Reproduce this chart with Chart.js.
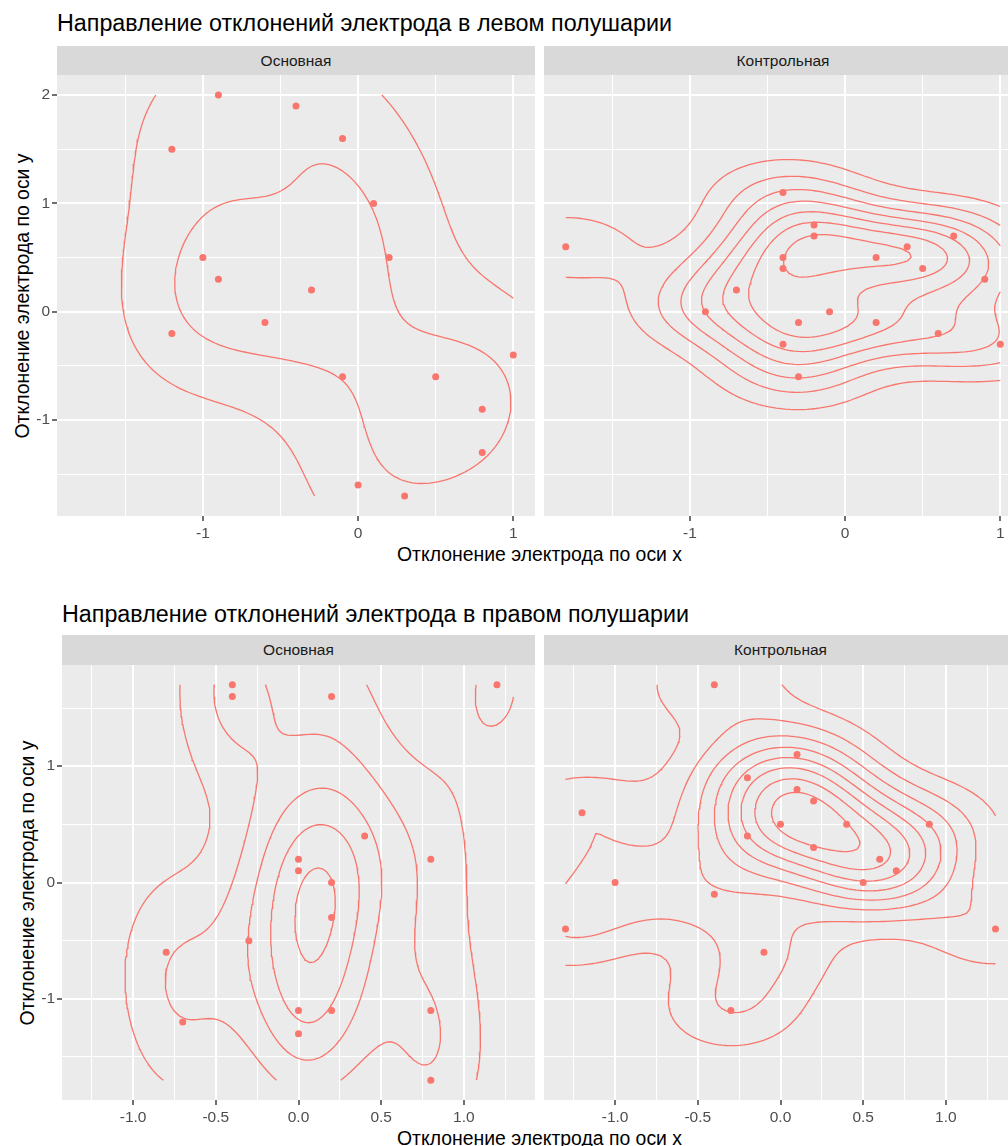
<!DOCTYPE html>
<html>
<head>
<meta charset="utf-8">
<script src="https://cdn.jsdelivr.net/npm/chart.js@4.4.0/dist/chart.umd.min.js"></script>
<style>
  body { margin: 0; background: #fff; }
  #page { position: relative; width: 1008px; height: 1146px; overflow: hidden; background: #fff;
          font-family: "Liberation Sans", Arial, sans-serif; }
  .abs { position: absolute; }
  .title { font-size: 23.3px; line-height: 27px; color: #000; white-space: nowrap; }
  .strip { background: #d9d9d9; color: #1a1a1a; font-size: 15.5px; text-align: center; }
  .xtitle { font-size: 19.4px; line-height: 22px; color: #000; text-align: center; white-space: nowrap; }
  .ytitle { font-size: 19.4px; line-height: 22px; color: #000; text-align: center; white-space: nowrap;
            width: 400px; transform: rotate(-90deg); }
</style>
</head>
<body>
<div id="page"></div>
<script>
// left hemisphere, main group
const leftMainX = [-1.2, -0.9, -0.4, -0.1, 0.1, 0.2, -1.0, -0.9, -0.3, -1.2, -0.6, -0.1, 0.5, 1.0, 0.8, 0.8, 0.0, 0.3];
const leftMainY = [1.5, 2.0, 1.9, 1.6, 1.0, 0.5, 0.5, 0.3, 0.2, -0.2, -0.1, -0.6, -0.6, -0.4, -0.9, -1.3, -1.6, -1.7];
// left hemisphere, control group
const leftCtrlX = [-1.8, -0.4, -0.2, -0.2, -0.4, -0.4, 0.2, 0.4, 0.5, 0.7, 0.9, -0.7, -0.9, -0.3, -0.1, 0.2, -0.4, 0.6, 1.0, -0.3];
const leftCtrlY = [0.6, 1.1, 0.8, 0.7, 0.5, 0.4, 0.5, 0.6, 0.4, 0.7, 0.3, 0.2, 0.0, -0.1, 0.0, -0.1, -0.3, -0.2, -0.3, -0.6];
// right hemisphere, main group
const rightMainX = [-0.4, -0.4, 0.2, 1.2, 0.4, 0.0, 0.0, 0.8, 0.2, 0.2, -0.3, -0.8, -0.7, 0.0, 0.2, 0.0, 0.8, 0.8];
const rightMainY = [1.7, 1.6, 1.6, 1.7, 0.4, 0.2, 0.1, 0.2, 0.0, -0.3, -0.5, -0.6, -1.2, -1.1, -1.1, -1.3, -1.1, -1.7];
// right hemisphere, control group
const rightCtrlX = [-0.4, -1.2, -1.0, 0.1, -0.2, 0.1, 0.2, 0.0, 0.4, -0.2, 0.2, 0.9, 0.6, 0.7, 0.5, -1.3, -0.4, -0.1, -0.3, 1.3];
const rightCtrlY = [1.7, 0.6, 0.0, 1.1, 0.9, 0.8, 0.7, 0.5, 0.5, 0.4, 0.3, 0.5, 0.2, 0.1, 0.0, -0.4, -0.1, -0.6, -1.1, -0.4];

const topXTicks = [-1, 0, 1];
const topXLabels = ['-1', '0', '1'];
const topYTicks = [-1, 0, 1, 2];
const topYLabels = ['-1', '0', '1', '2'];
const bottomXTicks = [-1, -0.5, 0, 0.5, 1];
const bottomXLabels = ['-1.0', '-0.5', '0.0', '0.5', '1.0'];
const bottomYTicks = [-1, 0, 1];
const bottomYLabels = ['-1', '0', '1'];

const facetNames = ['Основная', 'Контрольная'];
const figTitles = ['Направление отклонений электрода в левом полушарии',
                   'Направление отклонений электрода в правом полушарии'];
const xTitle = 'Отклонение электрода по оси x';
const yTitle = 'Отклонение электрода по оси y';

const red = '#F8766D';
Chart.defaults.font.family = '"Liberation Sans", Arial, sans-serif';

// ---- density estimate like MASS::kde2d + bandwidth.nrd ----
function quantile7(v, p) {
  const s = v.slice().sort((a, b) => a - b);
  const h = (s.length - 1) * p, lo = Math.floor(h);
  const hi = Math.min(lo + 1, s.length - 1);
  return s[lo] + (h - lo) * (s[hi] - s[lo]);
}
function bandwidthNrd(v) {
  const n = v.length;
  const m = v.reduce((a, b) => a + b, 0) / n;
  const sd = Math.sqrt(v.reduce((a, b) => a + (b - m) * (b - m), 0) / (n - 1));
  const iqr = (quantile7(v, 0.75) - quantile7(v, 0.25)) / 1.34;
  return 4 * 1.06 * Math.min(sd, iqr) * Math.pow(n, -0.2);
}
function kde2d(xs, ys, lims, n) {
  const hx = bandwidthNrd(xs) / 4, hy = bandwidthNrd(ys) / 4;
  const gx = [], gy = [];
  for (let i = 0; i < n; i++) {
    gx.push(lims[0] + (lims[1] - lims[0]) * i / (n - 1));
    gy.push(lims[2] + (lims[3] - lims[2]) * i / (n - 1));
  }
  const dn = t => Math.exp(-0.5 * t * t) / Math.sqrt(2 * Math.PI);
  const z = [];
  for (let i = 0; i < n; i++) {
    const row = [];
    for (let j = 0; j < n; j++) {
      let s = 0;
      for (let k = 0; k < xs.length; k++) s += dn((gx[i] - xs[k]) / hx) * dn((gy[j] - ys[k]) / hy);
      row.push(s / (xs.length * hx * hy));
    }
    z.push(row);
  }
  return { gx, gy, z };
}
function rPretty(lo, up, n) {
  const h = 1.5, h5 = 0.5 + 1.5 * h;
  const cell = (up - lo) / n;
  const U = Math.pow(10, Math.floor(Math.log10(cell)));
  let unit = U;
  if (2 * U - cell < h * (cell - unit)) {
    unit = 2 * U;
    if (5 * U - cell < h5 * (cell - unit)) {
      unit = 5 * U;
      if (10 * U - cell < h * (cell - unit)) unit = 10 * U;
    }
  }
  const ns = Math.floor(lo / unit + 1e-7), nu = Math.ceil(up / unit - 1e-7);
  const out = [];
  for (let k = ns; k <= nu; k++) out.push(k * unit);
  return out;
}
// marching squares, segments chained into polylines
function isolines(d, level) {
  const { gx, gy, z } = d, n = gx.length;
  const adj = new Map();
  const link = (a, b) => {
    if (!adj.has(a)) adj.set(a, []);
    if (!adj.has(b)) adj.set(b, []);
    adj.get(a).push(b); adj.get(b).push(a);
  };
  for (let i = 0; i < n - 1; i++) for (let j = 0; j < n - 1; j++) {
    const v0 = z[i][j], v1 = z[i + 1][j], v2 = z[i + 1][j + 1], v3 = z[i][j + 1];
    const c = (v0 > level ? 1 : 0) | (v1 > level ? 2 : 0) | (v2 > level ? 4 : 0) | (v3 > level ? 8 : 0);
    if (c === 0 || c === 15) continue;
    const B = 'h' + i + ',' + j, R = 'v' + (i + 1) + ',' + j, T = 'h' + i + ',' + (j + 1), L = 'v' + i + ',' + j;
    const mid = (v0 + v1 + v2 + v3) / 4 > level;
    switch (c) {
      case 1: case 14: link(L, B); break;
      case 2: case 13: link(B, R); break;
      case 3: case 12: link(L, R); break;
      case 4: case 11: link(R, T); break;
      case 6: case 9: link(B, T); break;
      case 7: case 8: link(L, T); break;
      case 5: if (mid) { link(B, R); link(L, T); } else { link(L, B); link(R, T); } break;
      case 10: if (mid) { link(L, B); link(R, T); } else { link(B, R); link(L, T); } break;
    }
  }
  const pt = key => {
    const [i, j] = key.slice(1).split(',').map(Number);
    if (key[0] === 'h') {
      const a = z[i][j], b = z[i + 1][j], t = (level - a) / (b - a);
      return { x: gx[i] + t * (gx[i + 1] - gx[i]), y: gy[j] };
    }
    const a = z[i][j], b = z[i][j + 1], t = (level - a) / (b - a);
    return { x: gx[i], y: gy[j] + t * (gy[j + 1] - gy[j]) };
  };
  const seen = new Set(), lines = [];
  const walk = start => {
    const keys = [start]; seen.add(start);
    let cur = start;
    for (;;) {
      const nxt = adj.get(cur).find(k => !seen.has(k));
      if (!nxt) break;
      seen.add(nxt); keys.push(nxt); cur = nxt;
    }
    if (adj.get(start).length === 2 && adj.get(cur).includes(start)) keys.push(start);
    lines.push(keys.map(pt));
  };
  for (const [k, nb] of adj) if (nb.length === 1 && !seen.has(k)) walk(k);
  for (const k of adj.keys()) if (!seen.has(k)) walk(k);
  return lines;
}

function expandRange(v) {
  const lo = Math.min(...v), hi = Math.max(...v), d = (hi - lo) * 0.05;
  return [lo - d, hi + d];
}
function minorBreaks(maj, lim) {
  const step = maj[1] - maj[0];
  const ext = [maj[0] - step, ...maj, maj[maj.length - 1] + step];
  const out = [];
  for (let i = 0; i < ext.length - 1; i++) {
    const m = (ext[i] + ext[i + 1]) / 2;
    if (m >= lim[0] && m <= lim[1]) out.push(m);
  }
  return out;
}

const figures = [
  { title: figTitles[0], titleTop: 10, titleLeft: 57, stripTop: 46, panelTop: 75, panelBottom: 516,
    panels: [[57, 535], [544, 1022]], yTitleX: 22, xTitleY: 554,
    sets: [[leftMainX, leftMainY], [leftCtrlX, leftCtrlY]],
    xMaj: topXTicks, xLab: topXLabels, yMaj: topYTicks, yLab: topYLabels },
  { title: figTitles[1], titleTop: 601, titleLeft: 62, stripTop: 635, panelTop: 665, panelBottom: 1100,
    panels: [[62, 535], [544, 1017]], yTitleX: 27, xTitleY: 1138,
    sets: [[rightMainX, rightMainY], [rightCtrlX, rightCtrlY]],
    xMaj: bottomXTicks, xLab: bottomXLabels, yMaj: bottomYTicks, yLab: bottomYLabels }
];

const page = document.getElementById('page');
function addDiv(cls, text, css) {
  const el = document.createElement('div');
  el.className = 'abs ' + cls;
  el.textContent = text;
  Object.assign(el.style, css);
  page.appendChild(el);
  return el;
}

const panelBg = {
  id: 'panelBg',
  beforeDraw(chart) {
    const a = chart.chartArea, c = chart.ctx;
    c.save(); c.fillStyle = '#ebebeb';
    c.fillRect(a.left, a.top, a.right - a.left, a.bottom - a.top);
    c.restore();
  }
};

const X_AXIS_H = 32;

figures.forEach(f => {
  const allX = [].concat(...f.sets.map(s => s[0]));
  const allY = [].concat(...f.sets.map(s => s[1]));
  const lims = [Math.min(...allX), Math.max(...allX), Math.min(...allY), Math.max(...allY)];
  const xr = expandRange(allX), yr = expandRange(allY);
  const dens = f.sets.map(s => kde2d(s[0], s[1], lims, 100));
  let zmin = Infinity, zmax = -Infinity;
  dens.forEach(d => d.z.forEach(r => r.forEach(v => { zmin = Math.min(zmin, v); zmax = Math.max(zmax, v); })));
  const levels = rPretty(zmin, zmax, 10);
  const xGrid = [...f.xMaj, ...minorBreaks(f.xMaj, xr)];
  const yGrid = [...f.yMaj, ...minorBreaks(f.yMaj, yr)];
  const isMajX = v => f.xMaj.some(m => Math.abs(m - v) < 1e-9);
  const isMajY = v => f.yMaj.some(m => Math.abs(m - v) < 1e-9);

  addDiv('title', f.title, { left: f.titleLeft + 'px', top: f.titleTop + 'px' });
  const pl = f.panels[0][0], pr = f.panels[1][1];
  addDiv('xtitle', xTitle, { left: pl + 'px', width: (pr - pl) + 'px', top: (f.xTitleY - 11) + 'px' });
  addDiv('ytitle', yTitle, { left: (f.yTitleX - 200) + 'px', top: ((f.panelTop + f.panelBottom) / 2 - 11) + 'px' });

  f.panels.forEach((p, pi) => {
    const sh = f.panelTop - f.stripTop;
    addDiv('strip', facetNames[pi], { left: p[0] + 'px', width: (p[1] - p[0]) + 'px', top: f.stripTop + 'px',
      height: sh + 'px', lineHeight: sh + 'px' });

    const first = pi === 0;
    const yW = first ? p[0] : 0;
    const left = first ? 0 : p[0];
    const w = p[1] - left, h = f.panelBottom - f.panelTop + X_AXIS_H;
    const cv = document.createElement('canvas');
    cv.width = w; cv.height = h;
    cv.style.position = 'absolute';
    cv.style.left = left + 'px'; cv.style.top = f.panelTop + 'px';
    page.appendChild(cv);

    const xs = f.sets[pi][0], ys = f.sets[pi][1];
    const lineData = [];
    levels.forEach(l => isolines(dens[pi], l).forEach(line => {
      line.forEach(q => lineData.push(q));
      lineData.push({ x: null, y: null });
    }));

    new Chart(cv, {
      type: 'scatter',
      data: {
        datasets: [
          { data: xs.map((x, i) => ({ x, y: ys[i] })), pointRadius: 3.5, pointBackgroundColor: red,
            pointBorderWidth: 0, showLine: false },
          { data: lineData, showLine: true, spanGaps: false, borderColor: red, borderWidth: 1.3,
            pointRadius: 0, tension: 0 }
        ]
      },
      options: {
        responsive: false, animation: false, events: [],
        layout: { padding: 0, autoPadding: false },
        plugins: { legend: { display: false }, tooltip: { enabled: false } },
        scales: {
          x: {
            type: 'linear', min: xr[0], max: xr[1],
            afterBuildTicks: s => { s.ticks = xGrid.map(v => ({ value: v })); },
            afterFit: s => { s.height = X_AXIS_H; s.paddingLeft = 0; s.paddingRight = 0; },
            border: { display: false },
            grid: {
              color: '#ffffff',
              lineWidth: c => (c.tick && isMajX(c.tick.value)) ? 2 : 1,
              tickLength: 5, tickWidth: 1.4,
              tickColor: c => (c.tick && isMajX(c.tick.value)) ? '#333333' : 'rgba(0,0,0,0)'
            },
            ticks: {
              autoSkip: false, maxRotation: 0, padding: 3, color: '#4d4d4d', font: { size: 15.5 },
              callback: v => { const k = f.xMaj.findIndex(m => Math.abs(m - v) < 1e-9); return k < 0 ? '' : f.xLab[k]; }
            }
          },
          y: {
            type: 'linear', min: yr[0], max: yr[1],
            afterBuildTicks: s => { s.ticks = yGrid.map(v => ({ value: v })); },
            afterFit: s => { s.width = yW; s.paddingTop = 0; s.paddingBottom = 0; },
            border: { display: false },
            grid: {
              color: '#ffffff',
              lineWidth: c => (c.tick && isMajY(c.tick.value)) ? 2 : 1,
              drawTicks: first, tickLength: 5, tickWidth: 1.4,
              tickColor: c => (c.tick && isMajY(c.tick.value)) ? '#333333' : 'rgba(0,0,0,0)'
            },
            ticks: {
              display: first, autoSkip: false, padding: 2, color: '#4d4d4d', font: { size: 15.5 },
              callback: v => { const k = f.yMaj.findIndex(m => Math.abs(m - v) < 1e-9); return k < 0 ? '' : f.yLab[k]; }
            }
          }
        }
      },
      plugins: [panelBg]
    });
  });
});
</script>
</body>
</html>
